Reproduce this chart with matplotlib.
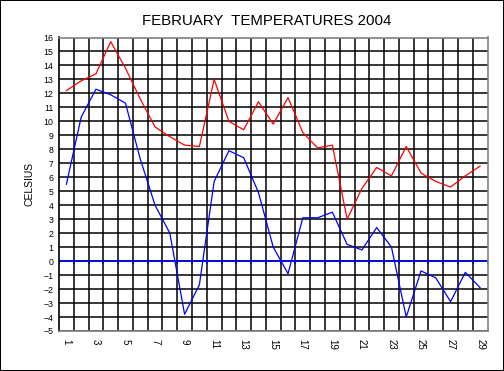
import matplotlib
matplotlib.use("Agg")
import matplotlib.pyplot as plt
from matplotlib.ticker import MultipleLocator, FixedLocator
import numpy as np

plt.rcParams['font.family'] = ['Liberation Sans', 'DejaVu Sans']

days = list(range(1, 30))
max_temp = [12.2, 12.9, 13.4, 15.7, 13.8, 11.6, 9.6, 8.9, 8.3, 8.2,
            13.0, 10.0, 9.4, 11.4, 9.8, 11.7, 9.2, 8.1, 8.3, 3.0,
            5.2, 6.7, 6.1, 8.2, 6.3, 5.7, 5.3, 6.1, 6.8]
min_temp = [5.5, 10.3, 12.3, 11.9, 11.3, 7.3, 4.0, 2.0, -3.8, -1.7,
            5.7, 7.9, 7.4, 4.9, 1.0, -0.9, 3.1, 3.1, 3.5, 1.2,
            0.8, 2.4, 1.0, -4.0, -0.7, -1.2, -2.9, -0.8, -1.9]
x_labels = [str(d) for d in days[::2]]
title = "FEBRUARY  TEMPERATURES 2004"
y_label = "CELSIUS"

fig = plt.figure(figsize=(5.04, 3.71), dpi=100)
fig.patch.set_facecolor('white')
fig.patch.set_edgecolor('black')
fig.patch.set_linewidth(1.4)
ax = fig.add_axes([59/504, 1-331/371, (487.5-59)/504, (331-37.5)/371])

ax.set_xlim(0.5, 29.5)
ax.set_ylim(-5, 16)

ax.xaxis.set_major_locator(FixedLocator(days[::2]))
ax.set_xticklabels(x_labels, rotation=-90, fontsize=7)
ax.xaxis.set_minor_locator(FixedLocator(np.arange(1.5, 29.5, 1)))
ax.yaxis.set_major_locator(MultipleLocator(1))
ax.tick_params(axis='x', which='both', length=0, pad=6)
ax.tick_params(axis='y', which='both', length=0, pad=4, labelsize=6.3)

ax.grid(True, which='minor', axis='x', color='black', linewidth=1.1)
ax.grid(True, which='major', axis='y', color='black', linewidth=1.1)
ax.set_axisbelow(True)

for s in ['top', 'right', 'bottom']:
    ax.spines[s].set_color('#808080')
    ax.spines[s].set_linewidth(1.2)
ax.spines['left'].set_color('black')
ax.spines['left'].set_linewidth(1.2)

# zero axis line with small ticks
ax.axhline(0, color='#0000ff', linewidth=1.1, zorder=2)
ax.vlines(np.arange(0.5, 30, 1), -0.18, 0, color='#0000ff', linewidth=1.1, zorder=2)

ax.plot(days, max_temp, color='#ff0000', linewidth=0.9, zorder=3)
ax.plot(days, min_temp, color='#0000ff', linewidth=0.9, zorder=3)

ax.set_title(title, fontsize=10.8, pad=9, x=0.485)
ax.set_ylabel(y_label, fontsize=7.5, labelpad=6)

fig.savefig("out.png", dpi=100)
